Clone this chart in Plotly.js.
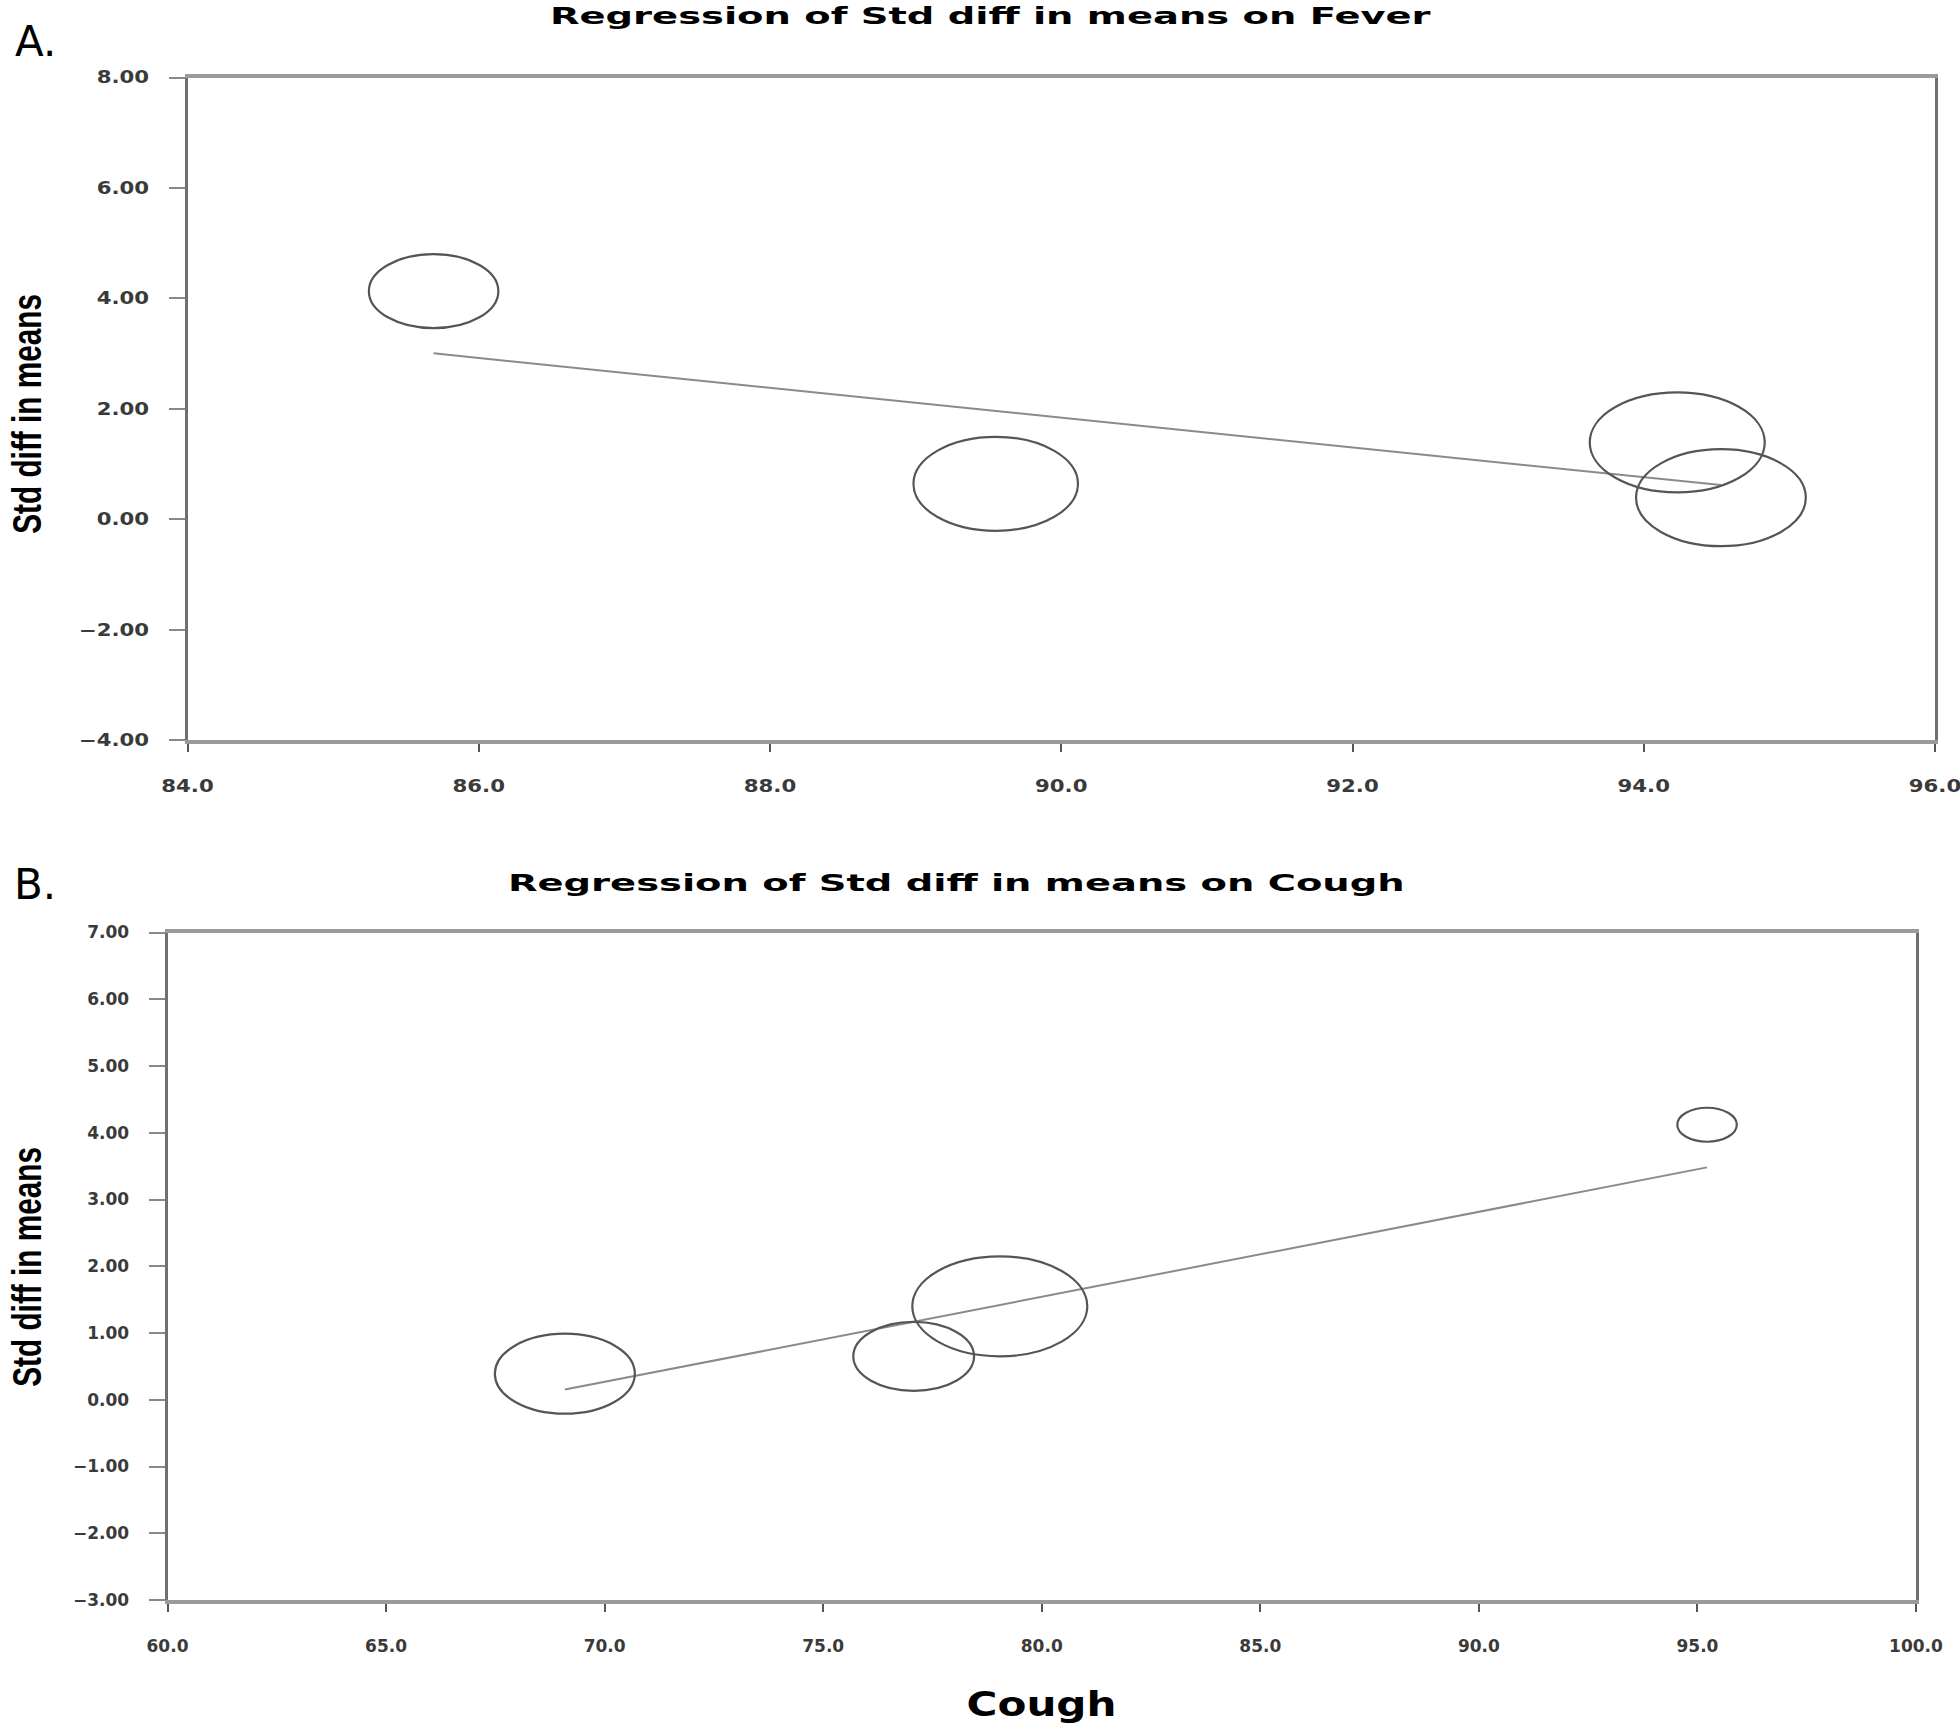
<!DOCTYPE html>
<html>
<head>
<meta charset="utf-8">
<script src="https://cdn.plot.ly/plotly-3.0.1.min.js"></script>
<style>html,body{margin:0;padding:0;background:#fff;}#chart{width:1960px;height:1723px;}</style>
</head>
<body>
<div id="chart"></div>
<script>
// ---- Data: Panel A (Fever) ----
var feverX = [85.69, 89.55, 94.23, 94.53];
var feverY = [4.13, 0.64, 1.39, 0.39];
var feverWeight = [0.74, 0.94, 1.00, 0.97];
var feverSlope = -0.270;
var feverIntercept = 26.14;

// ---- Data: Panel B (Cough) ----
var coughX = [69.09, 77.07, 79.04, 95.22];
var coughY = [0.39, 0.65, 1.40, 4.12];
var coughWeight = [0.80, 0.69, 1.00, 0.34];
var coughSlope = 0.1274;
var coughIntercept = -8.65;

var titleA = "Regression of Std diff in means on Fever";
var titleB = "Regression of Std diff in means on Cough";
var yLabel = "Std diff in means";
var xLabelB = "Cough";

// ---- Build ----
var W = 1960, H = 1723;
var BUBBLE_W = 175, BUBBLE_H = 100;

function regLine(xs, slope, icpt, xa, ya) {
  var x0 = Math.min.apply(null, xs), x1 = Math.max.apply(null, xs);
  return {x: [x0, x1], y: [icpt + slope * x0, icpt + slope * x1], type: 'scatter', mode: 'lines',
    line: {color: '#8a8a8a', width: 2}, xaxis: xa, yaxis: ya, hoverinfo: 'skip', showlegend: false};
}
function bubbles(xs, ys, ws, xr, yr) {
  return xs.map(function (x, i) {
    return {type: 'circle', xref: xr, yref: yr, xsizemode: 'pixel', ysizemode: 'pixel',
      xanchor: x, yanchor: ys[i],
      x0: -BUBBLE_W * ws[i] / 2, x1: BUBBLE_W * ws[i] / 2,
      y0: -BUBBLE_H * ws[i] / 2, y1: BUBBLE_H * ws[i] / 2,
      line: {color: '#555', width: 2.2}, fillcolor: 'rgba(0,0,0,0)'};
  });
}

var traces = [
  {x: feverX, y: feverY, type: 'scatter', mode: 'markers', marker: {size: 1, opacity: 0}, xaxis: 'x', yaxis: 'y', hoverinfo: 'x+y', showlegend: false},
  regLine(feverX, feverSlope, feverIntercept, 'x', 'y'),
  {x: coughX, y: coughY, type: 'scatter', mode: 'markers', marker: {size: 1, opacity: 0}, xaxis: 'x2', yaxis: 'y2', hoverinfo: 'x+y', showlegend: false},
  regLine(coughX, coughSlope, coughIntercept, 'x2', 'y2')
];

var tickFont = {family: 'DejaVu Sans, Arial, sans-serif', size: 17, color: '#3a3a3a', weight: 'bold'};
function px(v) { return v / W; }
function py(v) { return 1 - v / H; }

function xax(range, dtick, dom, anchor) {
  return {domain: dom, range: range, dtick: dtick, tick0: range[0], tickformat: '.1f', anchor: anchor,
    showgrid: false, zeroline: false, showline: true, mirror: true, linecolor: '#9a9a9a', linewidth: 4,
    ticks: 'outside', ticklen: 8, tickwidth: 2, tickcolor: '#555', tickfont: tickFont, ticklabelstandoff: 20,
    fixedrange: true};
}
function yax(range, dtick, dom, anchor) {
  return {domain: dom, range: range, dtick: dtick, tick0: range[0], tickformat: '.2f', anchor: anchor,
    showgrid: false, zeroline: false, showline: true, mirror: true, linecolor: '#707070', linewidth: 3,
    ticks: 'outside', ticklen: 16, tickwidth: 2, tickcolor: '#888', tickfont: tickFont, ticklabelstandoff: 16,
    fixedrange: true};
}

var titleFont = {family: 'DejaVu Sans, Arial, sans-serif', size: 23, color: '#000', weight: 'bold'};
var yTitleFont = {family: 'Liberation Sans, Arial, sans-serif', size: 40, color: '#000', weight: 'bold'};

// target widths (px) of stretched texts, by annotation index
var stretchTargets = {0: 882, 1: 897, 4: 240, 5: 240, 6: 150};

var layout = {
  width: W, height: H,
  margin: {l: 0, r: 0, t: 0, b: 0},
  paper_bgcolor: '#fff', plot_bgcolor: '#fff',
  showlegend: false,
  xaxis: xax([84, 96], 2, [px(187.5), px(1935)], 'y'),
  yaxis: yax([-4, 8], 2, [py(740), py(77.5)], 'x'),
  xaxis2: xax([60, 100], 5, [px(167.5), px(1916)], 'y2'),
  yaxis2: yax([-3, 7], 1, [py(1600), py(932.5)], 'x2'),
  shapes: bubbles(feverX, feverY, feverWeight, 'x', 'y').concat(bubbles(coughX, coughY, coughWeight, 'x2', 'y2')),
  annotations: [
    {text: titleA, xref: 'paper', yref: 'paper', x: px(991), y: py(16), xanchor: 'center', yanchor: 'middle', showarrow: false, font: titleFont},
    {text: titleB, xref: 'paper', yref: 'paper', x: px(956), y: py(883), xanchor: 'center', yanchor: 'middle', showarrow: false, font: titleFont},
    {text: 'A.', xref: 'paper', yref: 'paper', x: px(35), y: py(41), xanchor: 'center', yanchor: 'middle', showarrow: false, font: {family: 'DejaVu Sans, Arial, sans-serif', size: 42, color: '#000'}},
    {text: 'B.', xref: 'paper', yref: 'paper', x: px(35), y: py(884), xanchor: 'center', yanchor: 'middle', showarrow: false, font: {family: 'DejaVu Sans, Arial, sans-serif', size: 42, color: '#000'}},
    {text: yLabel, xref: 'paper', yref: 'paper', x: px(27), y: py(414), xanchor: 'center', yanchor: 'middle', textangle: -90, showarrow: false, font: yTitleFont},
    {text: yLabel, xref: 'paper', yref: 'paper', x: px(27), y: py(1267), xanchor: 'center', yanchor: 'middle', textangle: -90, showarrow: false, font: yTitleFont},
    {text: xLabelB, xref: 'paper', yref: 'paper', x: px(1041), y: py(1704), xanchor: 'center', yanchor: 'middle', showarrow: false, font: {family: 'DejaVu Sans, Arial, sans-serif', size: 34, color: '#000', weight: 'bold'}}
  ]
};

function scaleAbout(el, sx, sy, ax, ay) {
  var t = el.getAttribute('transform') || '';
  el.setAttribute('transform', t + ' translate(' + ax + ',' + ay + ') scale(' + sx + ',' + sy + ') translate(' + (-ax) + ',' + (-ay) + ')');
}

Plotly.newPlot('chart', traces, layout, {displayModeBar: false, staticPlot: true}).then(function (gd) {
  gd.querySelectorAll('g.annotation').forEach(function (g) {
    var idx = +g.getAttribute('data-index');
    if (!(idx in stretchTargets)) return;
    var txt = g.querySelector('text.annotation-text');
    if (!txt) return;
    var bb = txt.getBBox();
    var sx = stretchTargets[idx] / bb.width;
    scaleAbout(txt, sx, 1, bb.x + bb.width / 2, bb.y + bb.height / 2);
  });
  gd.querySelectorAll('.ytick text').forEach(function (t) {
    var bb = t.getBBox();
    scaleAbout(t, 1.25, 1, bb.x + bb.width, bb.y + bb.height / 2);
  });
  gd.querySelectorAll('.xtick text').forEach(function (t) {
    var bb = t.getBBox();
    scaleAbout(t, 1.25, 1, bb.x + bb.width / 2, bb.y + bb.height / 2);
  });
});
</script>
</body>
</html>
